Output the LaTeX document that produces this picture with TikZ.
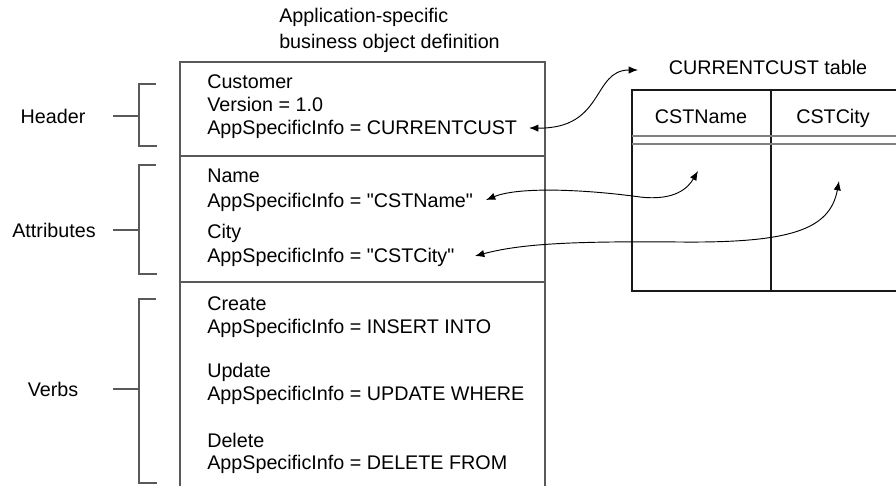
\documentclass[tikz,border=0pt]{standalone}
\usepackage{fontspec}
\newfontfamily\lsans{Liberation Sans}
\usetikzlibrary{arrows.meta}
\begin{document}
\begin{tikzpicture}[x=0.75pt,y=-0.75pt,
  txt/.style={anchor=base west, inner sep=0pt, font=\lsans\fontsize{14.8}{17}\selectfont},
  ctxt/.style={anchor=base, inner sep=0pt, font=\lsans\fontsize{14.8}{17}\selectfont},
  boxline/.style={draw=black!65, line width=1pt},
  brk/.style={draw=black!65, line width=1pt},
  tbl/.style={draw=black!90, line width=0.8pt},
  dbl/.style={draw=black!50, line width=0.8pt},
  conn/.style={draw=black, line width=0.7pt, {Latex[length=7pt,width=5.5pt]}-{Latex[length=7pt,width=5.5pt]}}
]
\useasboundingbox (0,0) rectangle (896,486);

% title
\node[txt] (t1) at (279,22) {Application-specific};
\node[txt] (t2) at (279,48) {business object definition};

% main box
\draw[boxline] (180,486) -- (180,62) -- (545,62) -- (545,486);
\draw[boxline] (180,156) -- (545,156);
\draw[boxline] (180,282) -- (545,282);

% header section
\node[txt] (cust) at (207,88) {Customer};
\node[txt] (ver) at (207,111) {Version = 1.0};
\node[txt] (appcc) at (207,134) {AppSpecificInfo = CURRENTCUST};

% attributes
\node[txt] (name) at (207,182) {Name};
\node[txt] (appname) at (207,207) {AppSpecificInfo = "CSTName"};
\node[txt] (city) at (207,238) {City};
\node[txt] (appcity) at (207,262) {AppSpecificInfo = "CSTCity"};

% verbs
\node[txt] (create) at (207,310) {Create};
\node[txt] (ins) at (207,333) {AppSpecificInfo = INSERT INTO};
\node[txt] (upd) at (207,377) {Update};
\node[txt] (updw) at (207,400) {AppSpecificInfo = UPDATE WHERE};
\node[txt] (del) at (207,447) {Delete};
\node[txt] (delf) at (207,469) {AppSpecificInfo = DELETE FROM};

% brackets and labels
\node[ctxt] (lhead) at (53,123) {Header};
\node[ctxt] (lattr) at (54,237) {Attributes};
\node[ctxt] (lverb) at (53,396) {Verbs};
\coordinate (bh) at (139,116);
\coordinate (ba) at (139,230);
\coordinate (bv) at (139,389);
\draw[brk] (156,84) -- (139,84) -- (139,146) -- (157,146);
\draw[brk] (113,116) -- (bh);
\draw[brk] (156,165) -- (139,165) -- (139,274) -- (157,274);
\draw[brk] (113,230) -- (ba);
\draw[brk] (156,299) -- (139,299) -- (139,483) -- (157,483);
\draw[brk] (113,389) -- (bv);

% table
\node[ctxt] (ttitle) at (768,74) {CURRENTCUST table};
\draw[tbl] (896,90) -- (632,90) -- (632,291) -- (896,291);
\draw[tbl] (771,90) -- (771,291);
\draw[dbl] (632,136) -- (896,136);
\draw[dbl] (632,144) -- (896,144);
\node[ctxt] (cname) at (701,123) {CSTName};
\node[ctxt] (ccity) at (833,123) {CSTCity};

% connector end points
\coordinate (eCC) at (529,128);
\coordinate (eTT) at (638,70);
\coordinate (eN) at (486,200);
\coordinate (eNT) at (698,171);
\coordinate (eC) at (475,256);
\coordinate (eCT) at (839,181);

\draw[conn] (eCC) .. controls (605,129) and (592,70) .. (eTT);
\draw[conn] (eN) .. controls (520,186) and (590,190) .. (640,197) .. controls (675,201) and (688,188) .. (eNT);
\draw[conn] (eC) .. controls (520,244) and (570,241) .. (680,242) .. controls (790,243) and (830,230) .. (eCT);
\end{tikzpicture}
\end{document}
